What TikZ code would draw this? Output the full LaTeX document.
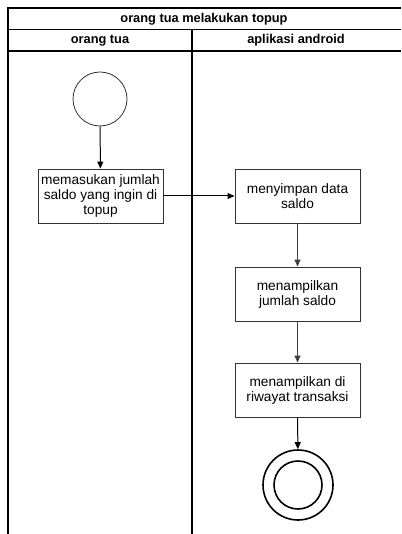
\documentclass[tikz,border=0pt]{standalone}
\usepackage{fontspec}
\setmainfont{Liberation Sans}
\usetikzlibrary{arrows.meta}
\begin{document}
\begin{tikzpicture}[x=1pt,y=-1pt,
  act/.style={draw=black!80,line width=0.9pt,minimum width=125pt,minimum height=54pt,inner sep=1pt,align=center,font=\fontsize{13.7}{15}\selectfont},
  flow/.style={-{Triangle[length=7pt,width=6pt]},line width=1pt},
  frame/.style={line width=1.2pt},
  hdr/.style={font=\bfseries\fontsize{12.8}{14}\selectfont}]
\useasboundingbox (0,0) rectangle (401,534);
\fill[white] (0,0) rectangle (401,534);
% frame
\draw[frame] (8,534) -- (8,8) -- (401,8);
\draw[frame] (8,29.5) -- (401,29.5);
\draw[frame] (8,51) -- (401,51);
\draw[frame] (192,29.5) -- (192,534);
\node[hdr] (title) at (204,19) {orang tua melakukan topup};
\node[hdr] (lane1) at (100,40.5) {orang tua};
\node[hdr] (lane2) at (296,40.5) {aplikasi android};
% nodes
\node[circle,draw=black!80,line width=0.8pt,minimum size=54pt,inner sep=0pt] (start) at (100,99) {};
\node[act] (a1) at (100.5,196) {memasukan jumlah\\saldo yang ingin di\\topup};
\node[act] (a2) at (297.5,196) {menyimpan data\\saldo};
\node[act] (a3) at (297.5,294) {menampilkan\\jumlah saldo};
\node[act] (a4) at (297.5,390) {menampilkan di\\riwayat transaksi};
\node[circle,draw=black,line width=1.6pt,minimum size=70pt,inner sep=0pt] (end) at (298,485) {};
\node[circle,draw=black,line width=1.6pt,minimum size=48pt,inner sep=0pt] (endin) at (298,485) {};
% connectors
\draw[flow] (start) -- (a1);
\draw[flow] (a1) -- (a2);
\draw[flow,black!75,line width=1.4pt] (a2) -- (a3);
\draw[flow,black!75,line width=1.4pt] (a3) -- (a4);
\draw[flow] (a4) -- (end);
\end{tikzpicture}
\end{document}
